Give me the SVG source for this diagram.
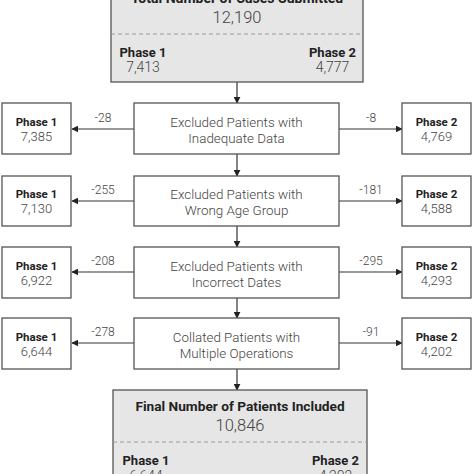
<svg xmlns="http://www.w3.org/2000/svg" width="474" height="474" viewBox="0 0 474 474">
<style>
.box{fill:#fff;stroke:#555;stroke-width:1.3}
.gbox{fill:#e6e6e6;stroke:#555;stroke-width:1.3}
.dash{stroke:#999;stroke-width:1;stroke-dasharray:4 3;fill:none}
.t{font-family:Roboto,"Liberation Sans",sans-serif;fill:#444;font-weight:300;text-anchor:middle}
.b{font-family:Roboto,"Liberation Sans",sans-serif;fill:#222;font-weight:bold;text-anchor:middle}
.mid{font-size:13.4px}
.ph{font-size:11.5px}
.num{font-size:13px}
.lbl{font-size:12px}
.con{stroke:#333;stroke-width:1.2;fill:none;marker-end:url(#ah)}
</style>
<defs>
<marker id="ah" viewBox="0 0 10 10" refX="9" refY="5" markerWidth="7" markerHeight="7" markerUnits="userSpaceOnUse" orient="auto">
<path d="M0,0 L10,5 L0,10 z" fill="#222"/>
</marker>
</defs>
<rect width="474" height="474" fill="#fff"/>
<g id="connectors">
<line class="con" x1="237" y1="82" x2="237" y2="103"/>
<line class="con" x1="237" y1="154" x2="237" y2="176"/>
<line class="con" x1="237" y1="226" x2="237" y2="247"/>
<line class="con" x1="237" y1="298" x2="237" y2="318"/>
<line class="con" x1="237" y1="369" x2="237" y2="390"/>
<line class="con" x1="134" y1="129" x2="72" y2="129"/>
<line class="con" x1="339" y1="129" x2="402" y2="129"/>
<line class="con" x1="134" y1="201" x2="72" y2="201"/>
<line class="con" x1="339" y1="201" x2="402" y2="201"/>
<line class="con" x1="134" y1="272" x2="72" y2="272"/>
<line class="con" x1="339" y1="272" x2="402" y2="272"/>
<line class="con" x1="134" y1="343" x2="72" y2="343"/>
<line class="con" x1="339" y1="343" x2="402" y2="343"/>
<text class="t lbl" x="103" y="122">-28</text>
<text class="t lbl" x="371" y="122">-8</text>
<text class="t lbl" x="103" y="194">-255</text>
<text class="t lbl" x="371" y="194">-181</text>
<text class="t lbl" x="103" y="265">-208</text>
<text class="t lbl" x="371" y="265">-295</text>
<text class="t lbl" x="103" y="336">-278</text>
<text class="t lbl" x="371" y="336">-91</text>
</g>
<g id="total">
<rect class="gbox" x="111" y="-40" width="252" height="122"/>
<line class="dash" x1="111" y1="34" x2="363" y2="34"/>
<text class="b" x="237" y="3" font-size="14">Total Number of Cases Submitted</text>
<text class="t" x="237" y="23" font-size="16.5">12,190</text>
<text class="b" x="143" y="57" font-size="13">Phase 1</text>
<text class="t" x="143" y="72" font-size="14">7,413</text>
<text class="b" x="332.5" y="57" font-size="13">Phase 2</text>
<text class="t" x="332.5" y="72" font-size="14">4,777</text>
</g>
<g id="step1">
<rect class="box" x="134" y="103" width="205" height="51"/>
<text class="t mid" x="236.5" y="127">Excluded Patients with</text>
<text class="t mid" x="236.5" y="143">Inadequate Data</text>
</g>
<g id="p1a"><rect class="box" x="2" y="103" width="69" height="51"/><text class="b ph" x="36.5" y="126">Phase 1</text><text class="t num" x="36.5" y="141">7,385</text></g>
<g id="p2a"><rect class="box" x="402" y="103" width="69" height="51"/><text class="b ph" x="436.5" y="126">Phase 2</text><text class="t num" x="436.5" y="141">4,769</text></g>
<g id="step2">
<rect class="box" x="134" y="176" width="205" height="50"/>
<text class="t mid" x="236.5" y="199">Excluded Patients with</text>
<text class="t mid" x="236.5" y="215">Wrong Age Group</text>
</g>
<g id="p1b"><rect class="box" x="2" y="176" width="69" height="50"/><text class="b ph" x="36.5" y="198">Phase 1</text><text class="t num" x="36.5" y="213">7,130</text></g>
<g id="p2b"><rect class="box" x="402" y="176" width="69" height="50"/><text class="b ph" x="436.5" y="198">Phase 2</text><text class="t num" x="436.5" y="213">4,588</text></g>
<g id="step3">
<rect class="box" x="134" y="247" width="205" height="51"/>
<text class="t mid" x="236.5" y="271">Excluded Patients with</text>
<text class="t mid" x="236.5" y="287">Incorrect Dates</text>
</g>
<g id="p1c"><rect class="box" x="2" y="247" width="69" height="51"/><text class="b ph" x="36.5" y="270">Phase 1</text><text class="t num" x="36.5" y="285">6,922</text></g>
<g id="p2c"><rect class="box" x="402" y="247" width="69" height="51"/><text class="b ph" x="436.5" y="270">Phase 2</text><text class="t num" x="436.5" y="285">4,293</text></g>
<g id="step4">
<rect class="box" x="134" y="318" width="205" height="51"/>
<text class="t mid" x="236.5" y="342">Collated Patients with</text>
<text class="t mid" x="236.5" y="358">Multiple Operations</text>
</g>
<g id="p1d"><rect class="box" x="2" y="318" width="69" height="51"/><text class="b ph" x="36.5" y="341">Phase 1</text><text class="t num" x="36.5" y="356">6,644</text></g>
<g id="p2d"><rect class="box" x="402" y="318" width="69" height="51"/><text class="b ph" x="436.5" y="341">Phase 2</text><text class="t num" x="436.5" y="356">4,202</text></g>
<g id="final">
<rect class="gbox" x="113" y="390" width="254" height="120"/>
<line class="dash" x1="113" y1="442" x2="367" y2="442"/>
<text class="b" x="240" y="410.5" font-size="13.7">Final Number of Patients Included</text>
<text class="t" x="240" y="431" font-size="16.5">10,846</text>
<text class="b" x="146" y="465" font-size="13">Phase 1</text>
<text class="t" x="146" y="481" font-size="14">6,644</text>
<text class="b" x="335.5" y="465" font-size="13">Phase 2</text>
<text class="t" x="335.5" y="481" font-size="14">4,202</text>
</g>
</svg>
